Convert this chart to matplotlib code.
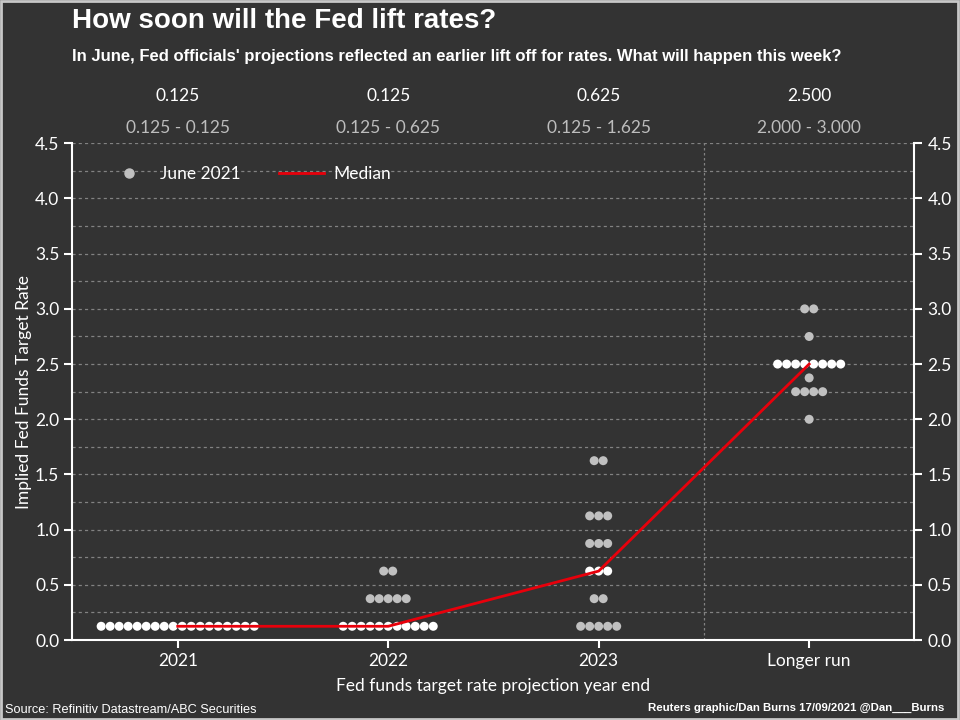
import numpy as np
import matplotlib.pyplot as plt
from matplotlib.lines import Line2D
from matplotlib.patches import Rectangle

# Fed dot plot, June 2021 projections
categories = ['2021', '2022', '2023', 'Longer run']
dot_rates = [
    [0.125],
    [0.125, 0.375, 0.625],
    [0.125, 0.375, 0.625, 0.875, 1.125, 1.625],
    [2.0, 2.25, 2.375, 2.5, 2.75, 3.0],
]
dot_counts = [
    [18],
    [11, 5, 2],
    [5, 2, 3, 3, 3, 2],
    [1, 4, 1, 8, 1, 2],
]
median = [0.125, 0.125, 0.625, 2.5]
ranges = ['0.125 - 0.125', '0.125 - 0.625', '0.125 - 1.625', '2.000 - 3.000']

bg = '#333333'
gray_dot = '#c0c0c0'
red = '#e8000b'
font = ['Lato', 'DejaVu Sans']
narrow = ['Liberation Sans Narrow', 'Liberation Sans', 'DejaVu Sans']
plt.rcParams['font.family'] = font

fig = plt.figure(figsize=(9.6, 7.2), dpi=100)
fig.set_facecolor(bg)
ax = fig.add_axes([0.0755, 0.111, 0.877, 0.690])
ax.set_facecolor(bg)

spacing = 0.0428
for i, (rates, counts) in enumerate(zip(dot_rates, dot_counts)):
    for r, n in zip(rates, counts):
        xs = i + (np.arange(n) - (n - 1) / 2) * spacing
        col = 'white' if r == median[i] else gray_dot
        ax.scatter(xs, [r] * n, s=42, color=col, edgecolors='none', zorder=3)

ax.plot(range(len(categories)), median, color=red, lw=2, zorder=4)

ax.set_xlim(-0.5, 3.5)
ax.set_ylim(0, 4.5)
ax.set_yticks(np.arange(0, 4.51, 0.5))
ax.set_yticklabels([f'{v:.1f}' for v in np.arange(0, 4.51, 0.5)])
ax.set_xticks(range(len(categories)))
ax.set_xticklabels(categories)
for y in np.arange(0.25, 4.51, 0.25):
    ax.axhline(y, color='#828282', lw=0.9, ls=(0, (2.5, 2.5)), zorder=1)
ax.axvline(2.5, color='#828282', lw=0.9, ls=(0, (2, 2)), zorder=1)

ax.tick_params(axis='both', colors='white', labelsize=12.5, length=6, width=1.5)
ax.tick_params(axis='y', left=True, right=True, labelleft=True, labelright=True)
for side in ['left', 'right', 'bottom']:
    ax.spines[side].set_color('white')
    ax.spines[side].set_linewidth(1.5)
ax.spines['top'].set_visible(False)

ax.set_ylabel('Implied Fed Funds Target Rate', color='white', fontsize=12.5, labelpad=2)
ax.set_xlabel('Fed funds target rate projection year end', color='white', fontsize=12.5, labelpad=6)

handles = [
    Line2D([], [], marker='o', ls='none', color=gray_dot, markersize=6.5),
    Line2D([], [], color=red, lw=2),
]
leg = ax.legend(handles, ['June 2021', 'Median'], loc='upper left', ncol=2, frameon=False,
                bbox_to_anchor=(0.022, 0.985), fontsize=12.5, columnspacing=2.2,
                handlelength=2.6, handletextpad=0.5)
for t in leg.get_texts():
    t.set_color('white')

# header: median and range per column
for i in range(len(categories)):
    xf = ax.transData.transform((i, 0))[0] / fig.bbox.width
    fig.text(xf, 1 - 96 / 720, f'{median[i]:.3f}', color='white', fontsize=12.5,
             ha='center', va='center')
    fig.text(xf, 1 - 128 / 720, ranges[i], color='#bdbdbd', fontsize=12.5,
             ha='center', va='center')

fig.text(0.075, 1 - 21 / 720, 'How soon will the Fed lift rates?', color='white',
         fontsize=20, fontweight='bold', family=narrow, ha='left', va='center')
fig.text(0.075, 1 - 56 / 720,
         "In June, Fed officials' projections reflected an earlier lift off for rates. What will happen this week?",
         color='white', fontsize=12, fontweight='bold', family=narrow, ha='left', va='center')

fig.text(5 / 960, 1 - 710 / 720, 'Source: Refinitiv Datastream/ABC Securities', color='white',
         fontsize=9.2, family=narrow, ha='left', va='center')
fig.text(944 / 960, 1 - 708 / 720, 'Reuters graphic/Dan Burns 17/09/2021 @Dan___Burns', color='white',
         fontsize=8.2, fontweight='bold', family=narrow, ha='right', va='center')

fig.patches.append(Rectangle((0.001, 0.001), 0.997, 0.997, transform=fig.transFigure,
                             fill=False, edgecolor='#c8c8c8', lw=2))

fig.savefig('out.png', dpi=100, facecolor=bg)
